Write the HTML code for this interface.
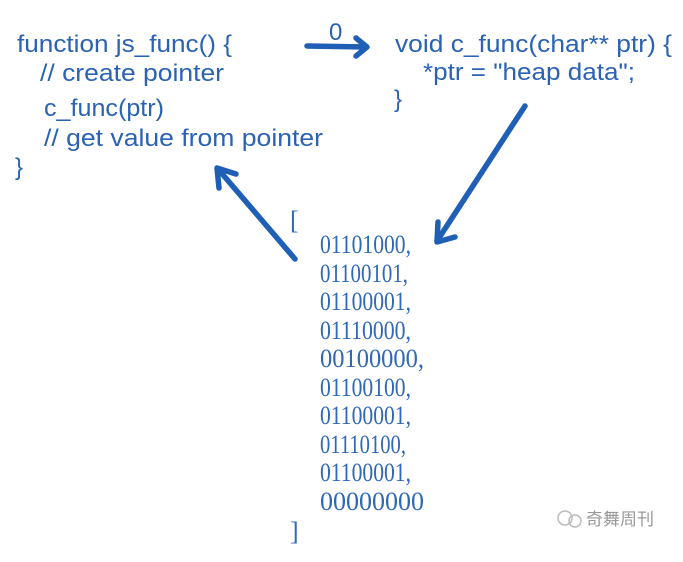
<!DOCTYPE html>
<html><head><meta charset="utf-8"><style>
html,body{margin:0;padding:0;background:#fff;}
svg{display:block;}
.t{font-family:"Liberation Sans",sans-serif;font-size:24px;fill:#2a62b4;}
.n{font-family:"Liberation Serif",serif;font-size:26px;fill:#2f68b8;}
</style></head><body>
<svg width="683" height="562" viewBox="0 0 683 562" xmlns="http://www.w3.org/2000/svg">
<rect width="683" height="562" fill="#fff"/>
<text class="t" x="17" y="52" textLength="215" lengthAdjust="spacingAndGlyphs">function js_func() {</text>
<text class="t" x="40" y="81" textLength="184" lengthAdjust="spacingAndGlyphs">// create pointer</text>
<text class="t" x="44" y="116" textLength="120" lengthAdjust="spacingAndGlyphs">c_func(ptr)</text>
<text class="t" x="44" y="146" textLength="279" lengthAdjust="spacingAndGlyphs">// get value from pointer</text>
<text class="t" x="15" y="175">}</text>
<text class="t" x="395" y="52" textLength="277" lengthAdjust="spacingAndGlyphs">void c_func(char** ptr) {</text>
<text class="t" x="423" y="80" textLength="212" lengthAdjust="spacingAndGlyphs">*ptr = "heap data";</text>
<text class="t" x="394" y="107">}</text>
<text class="t" x="329" y="40">0</text>
<g stroke="#1f5fb5" stroke-width="5.5" stroke-linecap="round" fill="none" stroke-linejoin="round">
<path d="M307 46 L366 47"/><path d="M356 38 L367 47 L356 56"/>
<path d="M525 106 L437 241"/><path d="M438 222 L437 242 L455 237"/>
<path d="M295 259 L218 169"/><path d="M219 188 L217 168 L236 174"/>
</g>
<text class="n" x="290" y="229">[</text>
<g class="n">
<text class="n" x="320" y="253" textLength="91" lengthAdjust="spacingAndGlyphs">01101000,</text>
<text class="n" x="320" y="282" textLength="88" lengthAdjust="spacingAndGlyphs">01100101,</text>
<text class="n" x="320" y="310" textLength="91" lengthAdjust="spacingAndGlyphs">01100001,</text>
<text class="n" x="320" y="339" textLength="91" lengthAdjust="spacingAndGlyphs">01110000,</text>
<text class="n" x="320" y="367" textLength="104" lengthAdjust="spacingAndGlyphs">00100000,</text>
<text class="n" x="320" y="396" textLength="91" lengthAdjust="spacingAndGlyphs">01100100,</text>
<text class="n" x="320" y="424" textLength="91" lengthAdjust="spacingAndGlyphs">01100001,</text>
<text class="n" x="320" y="453" textLength="86" lengthAdjust="spacingAndGlyphs">01110100,</text>
<text class="n" x="320" y="481" textLength="91" lengthAdjust="spacingAndGlyphs">01100001,</text>
<text class="n" x="320" y="510" textLength="104" lengthAdjust="spacingAndGlyphs">00000000</text>
</g>
<text class="n" x="290" y="540">]</text>
<text x="586" y="525" font-family="'Liberation Sans','Noto Sans CJK SC',sans-serif" font-size="17" fill="#999">奇舞周刊</text>
<circle cx="565" cy="518" r="7" fill="none" stroke="#bbb" stroke-width="1.5"/>
<circle cx="575" cy="521" r="6" fill="none" stroke="#bbb" stroke-width="1.5"/>
</svg>
</body></html>
